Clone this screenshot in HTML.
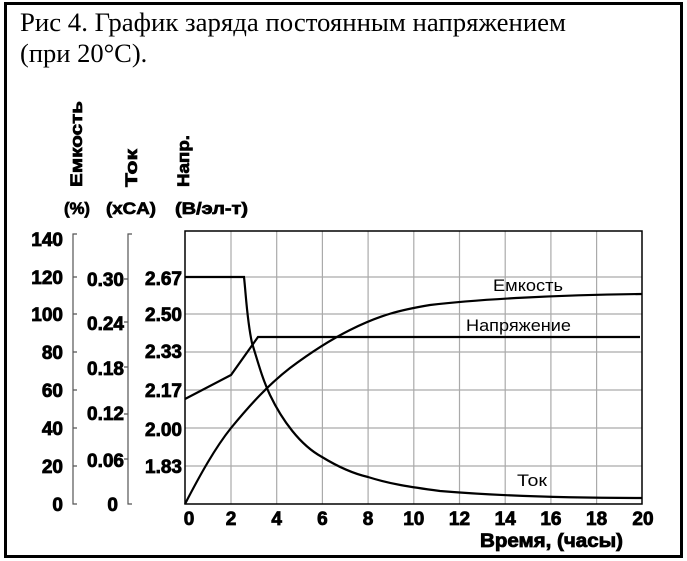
<!DOCTYPE html>
<html><head><meta charset="utf-8"><style>
body{margin:0;background:#fff;}
</style></head><body>
<svg width="687" height="561" xmlns="http://www.w3.org/2000/svg" style="display:block">
<rect x="5.5" y="3.5" width="676" height="553" fill="#fff" stroke="#000" stroke-width="3"/>
<g font-family="Liberation Serif, serif" font-size="26.5" fill="#000">
<text x="20" y="31" textLength="546" lengthAdjust="spacingAndGlyphs">Рис 4. График заряда постоянным напряжением</text>
<text x="20" y="62">(при 20°C).</text>
</g>
<g font-family="Liberation Sans, sans-serif" font-weight="bold" font-size="17" fill="#000" stroke="#000" stroke-width="0.7">
<text transform="translate(82,187) rotate(-90)" textLength="86" lengthAdjust="spacingAndGlyphs">Емкость</text>
<text transform="translate(137,187) rotate(-90)" textLength="38" lengthAdjust="spacingAndGlyphs">Ток</text>
<text transform="translate(189,187) rotate(-90)" textLength="52" lengthAdjust="spacingAndGlyphs">Напр.</text>
<text x="64" y="214" textLength="26" lengthAdjust="spacingAndGlyphs">(%)</text>
<text x="106" y="214" textLength="50" lengthAdjust="spacingAndGlyphs">(xCA)</text>
<text x="175" y="214" textLength="73" lengthAdjust="spacingAndGlyphs">(В/эл-т)</text>
</g>
<!-- grid -->
<g stroke="#aaa" stroke-width="1.2">
<line x1="231" y1="231" x2="231" y2="504"/><line x1="276.7" y1="231" x2="276.7" y2="504"/>
<line x1="322.4" y1="231" x2="322.4" y2="504"/><line x1="368.1" y1="231" x2="368.1" y2="504"/>
<line x1="413.8" y1="231" x2="413.8" y2="504"/><line x1="459.5" y1="231" x2="459.5" y2="504"/>
<line x1="505.2" y1="231" x2="505.2" y2="504"/><line x1="550.9" y1="231" x2="550.9" y2="504"/>
<line x1="596.6" y1="231" x2="596.6" y2="504"/>
<line x1="185" y1="277" x2="642" y2="277"/><line x1="185" y1="314" x2="642" y2="314"/>
<line x1="185" y1="352" x2="642" y2="352"/><line x1="185" y1="390" x2="642" y2="390"/>
<line x1="185" y1="428" x2="642" y2="428"/><line x1="185" y1="466" x2="642" y2="466"/>
</g>
<rect x="185" y="231" width="457" height="273" fill="none" stroke="#000" stroke-width="1.5"/>
<!-- left axes -->
<g stroke="#555" stroke-width="1.2" fill="none">
<path d="M77 234 H73 V504 H77 M73 277 H77 M73 314 H77 M73 352 H77 M73 390 H77 M73 428 H77 M73 466 H77"/>
<path d="M132 234 H128 V504 H132 M124 279 H128 M124 322 H128 M124 367 H128 M124 414 H128 M124 459 H128"/>
</g>
<g font-family="Liberation Sans, sans-serif" font-weight="bold" font-size="19" fill="#000" stroke="#000" stroke-width="0.8">
<g text-anchor="end">
<text x="63" y="246">140</text><text x="63" y="284">120</text><text x="63" y="321">100</text>
<text x="63" y="359">80</text><text x="63" y="397">60</text><text x="63" y="435">40</text>
<text x="63" y="473">20</text><text x="63" y="511">0</text>
<text x="124" y="286">0.30</text><text x="124" y="330">0.24</text><text x="124" y="375">0.18</text>
<text x="124" y="420">0.12</text><text x="124" y="467">0.06</text><text x="118" y="511">0</text>
</g>
<g text-anchor="end">
<text x="182" y="285">2.67</text><text x="182" y="321">2.50</text><text x="182" y="358">2.33</text>
<text x="182" y="397">2.17</text><text x="182" y="436">2.00</text><text x="182" y="473">1.83</text>
</g>
<g text-anchor="middle">
<text x="189" y="525">0</text><text x="231" y="525">2</text><text x="276.7" y="525">4</text>
<text x="322.4" y="525">6</text><text x="368.1" y="525">8</text><text x="413.8" y="525">10</text>
<text x="459.5" y="525">12</text><text x="505.2" y="525">14</text><text x="550.9" y="525">16</text>
<text x="596.6" y="525">18</text><text x="643" y="525">20</text>
</g>
<text x="480" y="547" textLength="143" lengthAdjust="spacingAndGlyphs">Время, (часы)</text>
</g>
<!-- curves -->
<g stroke="#000" stroke-width="2.2" fill="none">
<path d="M185 277 H244 C246 295 247 320 252 343 C258 362 262 378 270 395 C282 420 300 445 322 457 C340 468 355 474 368 477 C390 484 410 487 440 491 C500 496 560 498 642 498"/>
<path d="M185 399 L231 375 L258 337 H640"/>
<path d="M185 504 C200 475 215 448 231 428 C250 405 268 385 290 368 C310 353 330 340 350 330 C380 315 400 310 430 305 C480 299 560 295 642 294"/>
</g>
<g font-family="Liberation Sans, sans-serif" font-size="17" fill="#000">
<text x="493" y="291" textLength="70" lengthAdjust="spacingAndGlyphs">Емкость</text>
<text x="466" y="331" textLength="105" lengthAdjust="spacingAndGlyphs">Напряжение</text>
<text x="517" y="486" textLength="30" lengthAdjust="spacingAndGlyphs">Ток</text>
</g>
</svg>
</body></html>
